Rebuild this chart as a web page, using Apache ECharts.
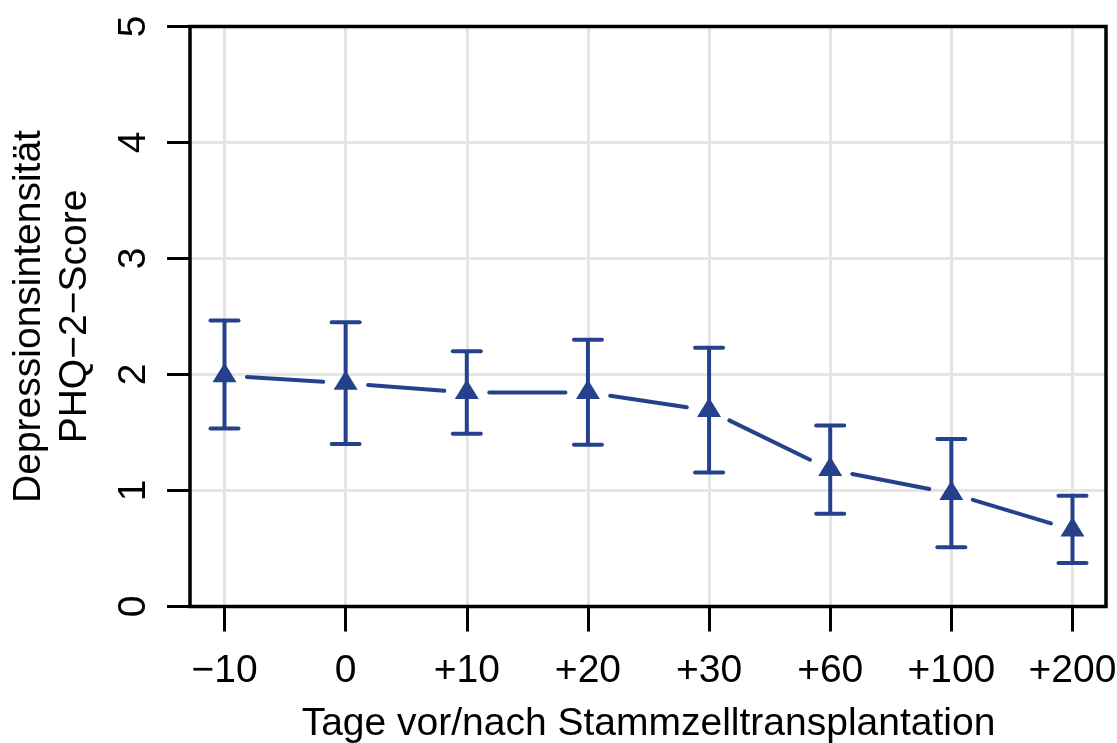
<!DOCTYPE html>
<html>
<head>
<meta charset="utf-8">
<script src="https://cdn.jsdelivr.net/npm/echarts@6/dist/echarts.min.js"></script>
<style>
html,body{margin:0;padding:0;background:#fff;}
#chart{width:1117px;height:743px;}
</style>
</head>
<body>
<div id="chart"></div>
<script>
// ---- data ----
const categories = ['\u221210', '0', '+10', '+20', '+30', '+60', '+100', '+200'];
const meanScore  = [1.99, 1.925, 1.845, 1.845, 1.69, 1.18, 0.975, 0.66];
const lowerCI    = [1.535, 1.40, 1.49, 1.395, 1.155, 0.80, 0.51, 0.375];
const upperCI    = [2.465, 2.45, 2.20, 2.30, 2.23, 1.56, 1.445, 0.955];
const yTicks     = [0, 1, 2, 3, 4, 5];
const xTitle = 'Tage vor/nach Stammzelltransplantation';
const yTitle = 'Depressionsintensit\u00e4t\nPHQ\u22122\u2212Score';

// ---- style ----
const BLUE = '#26418C';
const GRIDC = '#E5E5E5';
const FONT = 'Liberation Sans, Arial, Helvetica, sans-serif';
const FS = 39;

const errData = categories.map((c, i) => [i, lowerCI[i], upperCI[i]]);
const ptData = categories.map((c, i) => [i, meanScore[i]]);
const segData = [];
for (let i = 0; i < categories.length - 1; i++) segData.push([i, meanScore[i], i + 1, meanScore[i + 1]]);

const chart = echarts.init(document.getElementById('chart'), null, {renderer: 'canvas'});
const option = {
  animation: false,
  backgroundColor: '#fff',
  textStyle: {fontFamily: FONT},
  grid: [
    {left: 190, right: 11, top: 26.5, bottom: 136.5, show: true, borderColor: '#000', borderWidth: 3.5, z: 5,
     containLabel: false, outerBoundsMode: 'none'},
    {left: 224.5, right: 44.5, top: 26.5, bottom: 136.5, show: false, containLabel: false, outerBoundsMode: 'none'}
  ],
  xAxis: [
    {gridIndex: 0, type: 'value', min: 0, max: 1, show: false},
    {gridIndex: 1, type: 'category', data: categories, boundaryGap: false,
     axisLine: {show: false},
     axisTick: {show: true, length: 25, lineStyle: {color: '#000', width: 3}},
     axisLabel: {fontSize: FS, color: '#000', fontFamily: FONT, margin: 45},
     splitLine: {show: true, lineStyle: {color: GRIDC, width: 3}},
     name: xTitle, nameLocation: 'middle', nameGap: 98,
     nameTextStyle: {fontSize: FS, color: '#000', fontFamily: FONT}}
  ],
  yAxis: [
    {gridIndex: 0, type: 'value', min: yTicks[0], max: yTicks[yTicks.length - 1], interval: 1,
     axisLine: {show: false},
     axisTick: {show: true, length: 23, lineStyle: {color: '#000', width: 3}},
     axisLabel: {fontSize: FS, color: '#000', fontFamily: FONT, rotate: 90, margin: 36},
     splitLine: {show: true, showMinLine: false, showMaxLine: false, lineStyle: {color: GRIDC, width: 3}},
     name: yTitle, nameLocation: 'middle', nameGap: 92, nameRotate: 90,
     nameTextStyle: {fontSize: FS, color: '#000', fontFamily: FONT, lineHeight: 46, align: 'center'}},
    {gridIndex: 1, type: 'value', min: yTicks[0], max: yTicks[yTicks.length - 1], show: false}
  ],
  series: [
    {
      type: 'custom', xAxisIndex: 1, yAxisIndex: 1, z: 3,
      data: segData,
      renderItem: function (params, api) {
        const p1 = api.coord([api.value(0), api.value(1)]);
        const p2 = api.coord([api.value(2), api.value(3)]);
        const dx = p2[0] - p1[0], dy = p2[1] - p1[1];
        const len = Math.sqrt(dx * dx + dy * dy);
        const ux = dx / len, uy = dy / len;
        const gap = 22.5;
        return {type: 'line',
          shape: {x1: p1[0] + ux * gap, y1: p1[1] + uy * gap, x2: p2[0] - ux * gap, y2: p2[1] - uy * gap},
          style: {stroke: BLUE, lineWidth: 4, lineCap: 'round'}};
      }
    },
    {
      type: 'custom', xAxisIndex: 1, yAxisIndex: 1, z: 3,
      data: errData,
      renderItem: function (params, api) {
        const x = api.value(0);
        const lo = api.coord([x, api.value(1)]);
        const hi = api.coord([x, api.value(2)]);
        const hw = 14;
        const st = {stroke: BLUE, lineWidth: 4, lineCap: 'round'};
        return {type: 'group', children: [
          {type: 'line', shape: {x1: hi[0], y1: hi[1], x2: lo[0], y2: lo[1]}, style: {stroke: BLUE, lineWidth: 4}},
          {type: 'line', shape: {x1: hi[0] - hw, y1: hi[1], x2: hi[0] + hw, y2: hi[1]}, style: st},
          {type: 'line', shape: {x1: lo[0] - hw, y1: lo[1], x2: lo[0] + hw, y2: lo[1]}, style: st}
        ]};
      }
    },
    {
      type: 'custom', xAxisIndex: 1, yAxisIndex: 1, z: 4,
      data: ptData,
      renderItem: function (params, api) {
        const p = api.coord([api.value(0), api.value(1)]);
        return {type: 'polygon',
          shape: {points: [[p[0], p[1] - 13], [p[0] + 12, p[1] + 6.5], [p[0] - 12, p[1] + 6.5]]},
          style: {fill: BLUE}};
      }
    }
  ]
};
chart.setOption(option);
</script>
</body>
</html>
